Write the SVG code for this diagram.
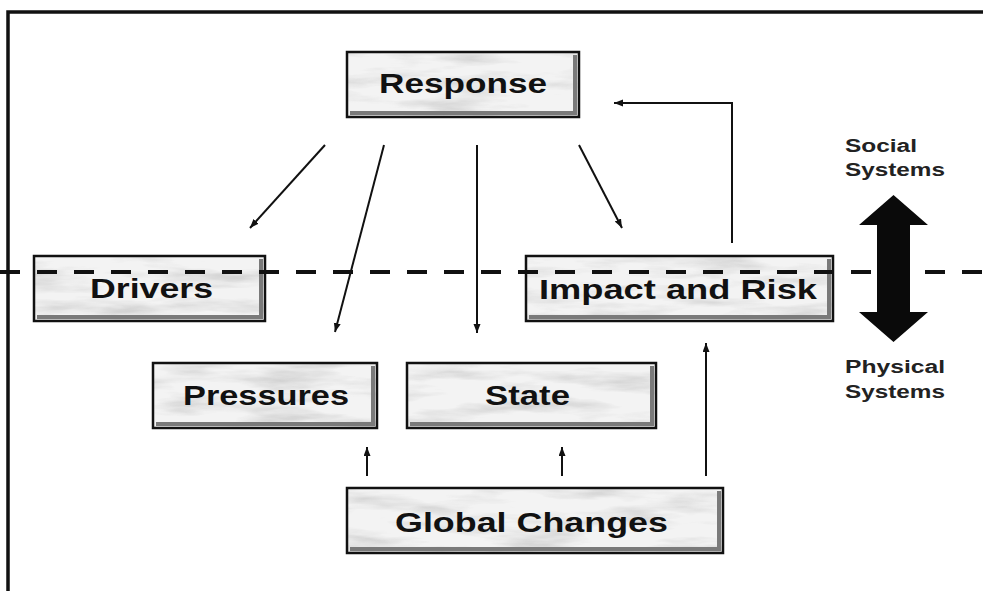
<svg xmlns="http://www.w3.org/2000/svg" width="983" height="591" viewBox="0 0 983 591">
  <style>
    .box { fill: #f3f3f3; }
    .tex { fill: #f3f3f3; filter: url(#marble); }
    .border { fill: none; stroke: #111; stroke-width: 2.5; }
    .shade { fill: none; stroke: #7a7a7a; stroke-width: 4; }
    .label { font-family: "Liberation Sans", Arial, sans-serif; font-weight: bold; font-size: 28px; fill: #111; text-anchor: start; }
    .side { font-family: "Liberation Sans", Arial, sans-serif; font-weight: bold; font-size: 18px; fill: #222; }
    .conn { fill: none; stroke: #111; stroke-width: 2; marker-end: url(#arrow); }
  </style>
  <defs>
    <filter id="marble" x="0" y="0" width="1" height="1">
      <feTurbulence type="fractalNoise" baseFrequency="0.012 0.07" numOctaves="4" seed="7" result="noise"/>
      <feColorMatrix in="noise" type="matrix" values="0 0 0 0 0.45  0 0 0 0 0.45  0 0 0 0 0.45  1.3 0 0 0 -0.58" result="gray"/>
      <feComposite in="gray" in2="SourceGraphic" operator="in" result="clip"/>
      <feMerge>
        <feMergeNode in="SourceGraphic"/>
        <feMergeNode in="clip"/>
      </feMerge>
    </filter>
    <marker id="arrow" markerUnits="userSpaceOnUse" markerWidth="10" markerHeight="8" refX="9" refY="3.5" orient="auto">
      <path d="M0,0 L9,3.5 L0,7 z" fill="#111"/>
    </marker>
  </defs>

  <rect x="0" y="0" width="983" height="591" fill="#ffffff"/>

  <!-- outer frame -->
  <path d="M8,591 L8,12 L983,12" fill="none" stroke="#111" stroke-width="3.5"/>

  <g id="response">
    <rect class="tex" x="347" y="52" width="232" height="65"/>
    <path class="shade" d="M575,55 L575,113 L350,113"/>
    <rect class="border" x="347" y="52" width="232" height="65"/>
    <text class="label" x="379" y="93" textLength="168" lengthAdjust="spacingAndGlyphs">Response</text>
  </g>

  <g id="drivers">
    <rect class="tex" x="34" y="256" width="231" height="65"/>
    <path class="shade" d="M261,259 L261,317 L37,317"/>
    <rect class="border" x="34" y="256" width="231" height="65"/>
    <text class="label" x="90" y="298" textLength="123" lengthAdjust="spacingAndGlyphs">Drivers</text>
  </g>

  <g id="impact-and-risk">
    <rect class="tex" x="526" y="256" width="307" height="65"/>
    <path class="shade" d="M829,259 L829,317 L529,317"/>
    <rect class="border" x="526" y="256" width="307" height="65"/>
    <text class="label" x="539" y="299" textLength="278" lengthAdjust="spacingAndGlyphs">Impact and Risk</text>
  </g>

  <g id="pressures">
    <rect class="tex" x="153" y="363" width="224" height="65"/>
    <path class="shade" d="M373,366 L373,424 L156,424"/>
    <rect class="border" x="153" y="363" width="224" height="65"/>
    <text class="label" x="183" y="405" textLength="166" lengthAdjust="spacingAndGlyphs">Pressures</text>
  </g>

  <g id="state">
    <rect class="tex" x="407" y="363" width="249" height="65"/>
    <path class="shade" d="M652,366 L652,424 L410,424"/>
    <rect class="border" x="407" y="363" width="249" height="65"/>
    <text class="label" x="485" y="405" textLength="85" lengthAdjust="spacingAndGlyphs">State</text>
  </g>

  <g id="global-changes">
    <rect class="tex" x="347" y="488" width="376" height="65"/>
    <path class="shade" d="M719,491 L719,549 L350,549"/>
    <rect class="border" x="347" y="488" width="376" height="65"/>
    <text class="label" x="395" y="532" textLength="273" lengthAdjust="spacingAndGlyphs">Global Changes</text>
  </g>

  <!-- dashed boundary between social and physical systems -->
  <line x1="0" y1="272" x2="983" y2="272" stroke="#111" stroke-width="4" stroke-dasharray="20 17"/>

  <g id="connectors">
    <line class="conn" x1="325" y1="145" x2="250" y2="228"/>
    <line class="conn" x1="384" y1="145" x2="335" y2="332"/>
    <line class="conn" x1="477" y1="145" x2="477" y2="333"/>
    <line class="conn" x1="579" y1="145" x2="622" y2="228"/>
    <polyline class="conn" points="732,243 732,103 614,103"/>
    <line class="conn" x1="367" y1="476" x2="367" y2="447"/>
    <line class="conn" x1="562" y1="476" x2="562" y2="447"/>
    <line class="conn" x1="706" y1="476" x2="706" y2="343"/>
  </g>

  <g id="systems-axis">
    <path d="M893.5,195 L928,225 L910,225 L910,312 L928,312 L893.5,342 L859,312 L877,312 L877,225 L859,225 z" fill="#0a0a0a"/>
    <text class="side" x="845" y="152" textLength="72" lengthAdjust="spacingAndGlyphs">Social</text>
    <text class="side" x="845" y="176" textLength="100" lengthAdjust="spacingAndGlyphs">Systems</text>
    <text class="side" x="845" y="373" textLength="100" lengthAdjust="spacingAndGlyphs">Physical</text>
    <text class="side" x="845" y="398" textLength="100" lengthAdjust="spacingAndGlyphs">Systems</text>
  </g>
</svg>
